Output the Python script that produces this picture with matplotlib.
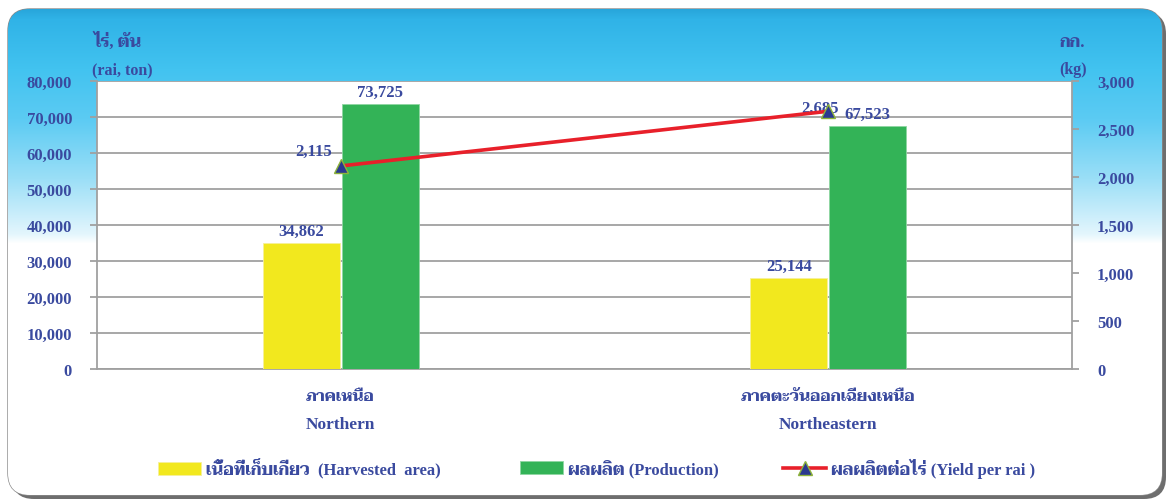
import numpy as np
import matplotlib
matplotlib.use("Agg")
import matplotlib.pyplot as plt
from matplotlib.patches import FancyBboxPatch
from matplotlib.ticker import FuncFormatter, MultipleLocator

# data
regions_th = ["ภาคเหนือ", "ภาคตะวันออกเฉียงเหนือ"]
regions_en = ["Northern", "Northeastern"]
harvested_area = [34862, 25144]
production = [73725, 67523]
yield_per_rai = [2115, 2685]

label_area = "เนื้อที่เก็บเกี่ยว  (Harvested  area)"
label_prod = "ผลผลิต (Production)"
label_yield = "ผลผลิตต่อไร่ (Yield per rai )"

plt.rcParams["font.family"] = ["Liberation Serif", "Taviraj"]
plt.rcParams["font.weight"] = "bold"

TXT = "#3a4a9f"
YELLOW = "#f2e81e"
GREEN = "#33b357"
RED = "#e8202a"
NAVY = "#2b3990"
GRID = "#a0a0a0"

W, H = 1172, 502
fig = plt.figure(figsize=(W / 100, H / 100), dpi=100)

# background frame with blue gradient at the top
bg = fig.add_axes([0, 0, 1, 1], zorder=-5)
bg.set_xlim(0, W)
bg.set_ylim(H, 0)
bg.axis("off")
shadow = FancyBboxPatch((12, 13), 1154, 487, boxstyle="round,pad=0,rounding_size=22",
                        fc="#555555", ec="none", alpha=0.85)
bg.add_patch(shadow)
frame = FancyBboxPatch((8, 10), 1154, 486, boxstyle="round,pad=0,rounding_size=22",
                       fc="white", ec="#8a8a8a", lw=1.0)
bg.add_patch(frame)
ys = np.arange(H)
stops_y = [10, 20, 70, 120, 180, 235, 244, 502]
stops_c = np.array([[0x28, 0xa6, 0xdb], [0x30, 0xb3, 0xe7], [0x42, 0xc3, 0xf0],
                    [0x5c, 0xcb, 0xf3], [0x9c, 0xdf, 0xf7], [0xe4, 0xf6, 0xfd],
                    [0xff, 0xff, 0xff], [0xff, 0xff, 0xff]]) / 255
grad = np.stack([np.interp(ys, stops_y, stops_c[:, k]) for k in range(3)], axis=1)
img = bg.imshow(grad[:, None, :].repeat(2, axis=1), extent=(0, W, H, 0), aspect="auto", zorder=1)
img.set_clip_path(frame)

# main axes
x0, x1, yt, yb = 97, 1072, 82, 370
ax = fig.add_axes([x0 / W, 1 - yb / H, (x1 - x0) / W, (yb - yt) / H])
ax.set_facecolor("white")
x = np.arange(len(regions_en))
bw = 0.157
b1 = ax.bar(x - 0.081, harvested_area, bw, color=YELLOW, edgecolor="#f6f09a", lw=0.6, zorder=3)
b2 = ax.bar(x + 0.081, production, bw, color=GREEN, edgecolor="#8fd6a2", lw=0.6, zorder=3)
ax.set_xlim(-0.5, 1.5)
ax.set_ylim(0, 80000)
ax.yaxis.set_major_locator(MultipleLocator(10000))
ax.yaxis.set_major_formatter(FuncFormatter(lambda v, p: f"{int(v):,}"))
ax.grid(axis="y", color=GRID, lw=1.3, zorder=0)
ax.set_xticks([])
for s in ["top", "right"]:
    ax.spines[s].set_visible(False)
ax.spines["left"].set_color(GRID)
ax.spines["left"].set_linewidth(1.3)
ax.spines["bottom"].set_color(GRID)
ax.spines["bottom"].set_linewidth(1.3)
ax.tick_params(axis="y", length=5, width=1.3, color=GRID, pad=13, labelsize=12, labelcolor=TXT)
for lab in ax.get_yticklabels():
    lab.set_fontweight("bold")

for rect, v in zip(list(b1) + list(b2), harvested_area + production):
    ax.annotate(f"{v:,}", (rect.get_x() + rect.get_width() / 2, v), xytext=(0, 3),
                textcoords="offset points", ha="center", va="bottom",
                color=TXT, fontsize=12, fontweight="bold")

for i in x:
    ax.text(i, -0.094, regions_th[i], transform=ax.get_xaxis_transform(), ha="center",
            va="center", color=TXT, fontsize=11.5, fontweight="bold")
    ax.text(i, -0.191, regions_en[i], transform=ax.get_xaxis_transform(), ha="center",
            va="center", color=TXT, fontsize=12.5, fontweight="bold")

# secondary axis: yield
ax2 = ax.twinx()
ax2.patch.set_visible(False)
ln, = ax2.plot(x, yield_per_rai, color=RED, lw=2.6, marker="^", ms=10,
               mfc=NAVY, mec="#8db33a", mew=1.0, zorder=5, label=label_yield)
ax2.set_ylim(0, 3000)
ax2.yaxis.set_major_locator(MultipleLocator(500))
ax2.yaxis.set_major_formatter(FuncFormatter(lambda v, p: f"{int(v):,}"))
for s in ["top", "left", "bottom"]:
    ax2.spines[s].set_visible(False)
ax2.spines["right"].set_color(GRID)
ax2.spines["right"].set_linewidth(1.3)
ax2.tick_params(axis="y", length=5, width=1.3, color=GRID, pad=13, labelsize=12, labelcolor=TXT)
for lab in ax2.get_yticklabels():
    lab.set_fontweight("bold")

ax2.annotate(f"{yield_per_rai[0]:,}", (x[0], yield_per_rai[0]), xytext=(-6, 5),
             textcoords="offset points", ha="right", va="bottom", color=TXT,
             fontsize=12, fontweight="bold")
ax2.annotate(f"{yield_per_rai[1]:,}", (x[1], yield_per_rai[1]), xytext=(-6, -3),
             textcoords="offset points", ha="center", va="bottom", color=TXT,
             fontsize=12, fontweight="bold")

# axis unit labels
fig.text(118 / W, 1 - 42 / H, "ไร่, ตัน", ha="center", va="center", color=TXT, fontsize=12)
fig.text(122 / W, 1 - 70 / H, "(rai, ton)", ha="center", va="center", color=TXT, fontsize=11.5)
fig.text(1072 / W, 1 - 43 / H, "กก.", ha="center", va="center", color=TXT, fontsize=12)
fig.text(1073 / W, 1 - 70 / H, "(kg)", ha="center", va="center", color=TXT, fontsize=11.5)

# legend: one entry per legend so each sits where the reference has it
for handle, text, lx in [(b1, label_area, 158), (b2, label_prod, 520), (ln, label_yield, 783)]:
    leg = fig.legend([handle], [text], loc="center left", bbox_to_anchor=(lx / W, 1 - 469 / H),
                     frameon=False, fontsize=12, handlelength=2.6, handleheight=0.9,
                     handletextpad=0.3, numpoints=1, borderpad=0, borderaxespad=0)
    for t in leg.get_texts():
        t.set_color(TXT)

fig.savefig("out.png", dpi=100)
